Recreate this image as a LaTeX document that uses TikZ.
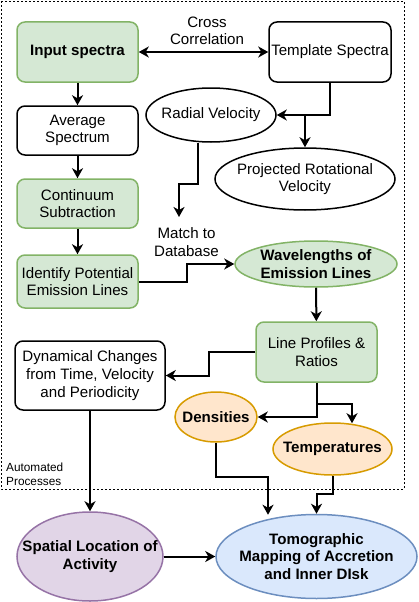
\documentclass[tikz,border=0pt]{standalone}
\usepackage{fontspec}
\setmainfont{Liberation Sans}
\usetikzlibrary{arrows.meta,shapes.geometric}
\definecolor{gfill}{HTML}{D5E8D4}\definecolor{gline}{HTML}{82B366}
\definecolor{ofill}{HTML}{FFE6CC}\definecolor{oline}{HTML}{D79B00}
\definecolor{pfill}{HTML}{E1D5E7}\definecolor{pline}{HTML}{9673A6}
\definecolor{bfill}{HTML}{DAE8FC}\definecolor{bline}{HTML}{6C8EBF}
\begin{document}
\begin{tikzpicture}[x=1pt,y=-1pt,
  every node/.style={inner sep=0pt, align=center, font=\fontsize{15.1}{17.6}\selectfont},
  box/.style={rectangle, rounded corners=8pt, draw=black, fill=white, line width=1.5pt},
  gbox/.style={box, draw=gline, fill=gfill},
  ell/.style={ellipse, draw=black, fill=white, line width=1.5pt},
  bld/.style={font=\fontsize{15.1}{17.6}\selectfont\bfseries},
  arr/.style={line width=2pt, -{Stealth[length=10pt,width=11pt,inset=3pt]}},
  lbl/.style={font=\fontsize{15.1}{17.6}\selectfont},
  lblb/.style={font=\fontsize{15.1}{17.6}\selectfont\bfseries}
]
\useasboundingbox (0,0) rectangle (418,602);
\draw[line width=0.8pt, dash pattern=on 2pt off 2pt] (1,1) rectangle (404,489);

\node[gbox, bld, minimum width=121pt, minimum height=60pt] (input) at (77.5,52) {Input spectra};
\node[box, minimum width=121pt, minimum height=49pt] (avg) at (77.5,130.5) {Average\\Spectrum};
\node[gbox, minimum width=121pt, minimum height=49pt] (cont) at (77.5,203.5) {Continuum\\Subtraction};
\node[gbox, minimum width=121pt, minimum height=53pt] (ident) at (77.5,281.5) {Identify Potential\\Emission Lines};
\node[box, minimum width=122pt, minimum height=60pt] (tmpl) at (330,52) {Template Spectra};
\node[lbl] (cross) at (207,31) {Cross\\Correlation};
\node[ell, minimum width=130pt, minimum height=54pt, label={[lbl]center:Radial Velocity}] (rv) at (211,115) {};
\node[ell, minimum width=180pt, minimum height=62pt, label={[lbl]center:Projected Rotational\\Velocity}] (prv) at (305,179) {};
\node[lbl] (match) at (186.5,242) {Match to\\Database};
\coordinate (mtip) at (179,217);
\node[ell, draw=gline, fill=gfill, minimum width=162pt, minimum height=46pt, label={[lblb]center:Wavelengths of\\Emission Lines}] (wl) at (316,264) {};
\node[gbox, minimum width=121pt, minimum height=60pt] (lp) at (316.5,352) {Line Profiles \&\\Ratios};
\node[box, minimum width=150pt, minimum height=69pt] (dyn) at (90,375.5) {Dynamical Changes\\from Time, Velocity\\and Periodicity};
\node[ell, draw=oline, fill=ofill, minimum width=82pt, minimum height=50pt, label={[lblb]center:Densities}] (dens) at (216,417) {};
\node[ell, draw=oline, fill=ofill, minimum width=119pt, minimum height=52pt, label={[lblb]center:Temperatures}] (temp) at (332.5,449) {};
\node[anchor=west, align=left, font=\fontsize{11.8}{14}\selectfont] (auto) at (6,474) {Automated\\Processes};
\node[ell, draw=pline, fill=pfill, minimum width=146pt, minimum height=89pt, label={[lblb]center:Spatial Location of\\Activity}] (spat) at (90,556.5) {};
\node[ell, draw=bline, fill=bfill, minimum width=201pt, minimum height=84pt, label={[lblb]center:Tomographic\\Mapping of Accretion\\and Inner DIsk}] (tomo) at (316.5,556.5) {};

\draw[line width=2pt, {Stealth[length=10pt,width=11pt,inset=3pt]}-{Stealth[length=10pt,width=11pt,inset=3pt]}] (input.east) -- (tmpl.west);
\draw[arr] (input) -- (avg);
\draw[arr] (avg) -- (cont);
\draw[arr] (cont) -- (ident);
\draw[arr] (tmpl.south) |- (rv.east);
\draw[arr] (tmpl.south) |- (prv.north |- rv.east) -- (prv.north);
\draw[arr] ([xshift=-13pt]rv.south) -- ++(0,41) -| (mtip);
\draw[arr] (ident.east) -- ++(48,0) |- (wl.west);
\draw[arr] (wl) -- (lp);
\draw[arr] (lp.west) -- ++(-46,0) |- (dyn.east);
\draw[arr] (lp.south) |- (dens.east);
\draw[arr] (lp.south) -- ++(0,21) -| ([xshift=19.5pt,yshift=-1pt]temp.north);
\draw[arr] (dyn) -- (spat);
\draw[arr] (dens.south) -- ++(0,34) -| ([xshift=-48.5pt,yshift=-1pt]tomo.north);
\draw[arr] (temp.south) -- ++(0,18) -| (tomo.north);
\draw[arr] (spat.east) -- (tomo.west);
\end{tikzpicture}
\end{document}
